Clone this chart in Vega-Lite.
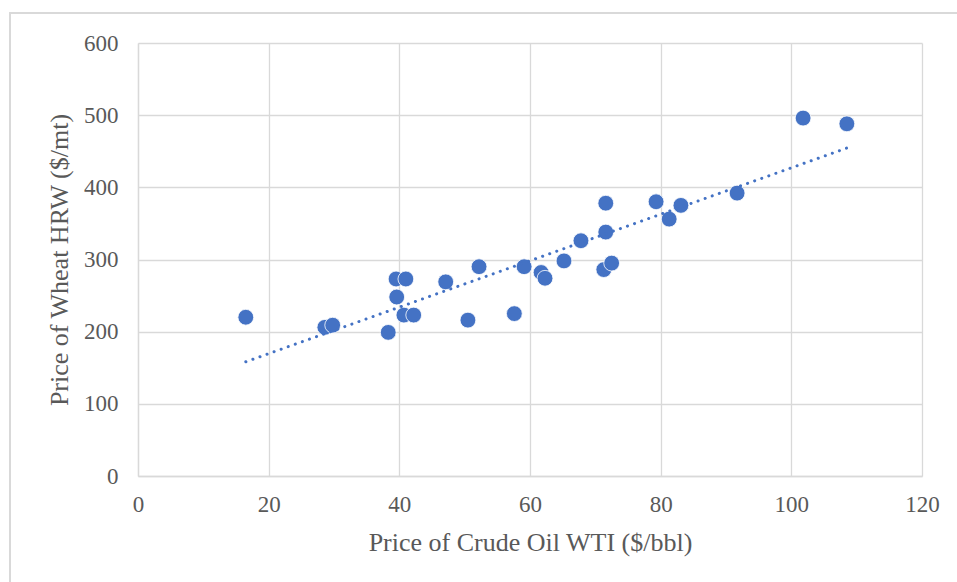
{
  "$schema": "https://vega.github.io/schema/vega-lite/v6.json",
  "width": 784,
  "height": 433,
  "autosize": "none",
  "padding": {"left": 138, "top": 43, "right": 35, "bottom": 106},
  "background": "white",
  "config": {
    "view": {"stroke": null},
    "font": "Liberation Serif",
    "axis": {
      "labelFont": "Liberation Serif",
      "titleFont": "Liberation Serif",
      "labelColor": "#595959",
      "titleColor": "#595959",
      "labelFontSize": 23,
      "titleFontSize": 26,
      "titleFontWeight": "normal",
      "grid": true,
      "gridColor": "#d9d9d9",
      "gridWidth": 1.3,
      "domainColor": "#d9d9d9",
      "domainWidth": 1.3,
      "ticks": false,
      "tickSize": 0
    }
  },
  "data": {
    "values": [
      {"oil": 16.5, "wheat": 220},
      {"oil": 28.6, "wheat": 206},
      {"oil": 29.8, "wheat": 209},
      {"oil": 38.3, "wheat": 199},
      {"oil": 39.5, "wheat": 273},
      {"oil": 39.6, "wheat": 248},
      {"oil": 41.0, "wheat": 273},
      {"oil": 40.7, "wheat": 223},
      {"oil": 42.2, "wheat": 223},
      {"oil": 47.1, "wheat": 269},
      {"oil": 50.5, "wheat": 216},
      {"oil": 52.2, "wheat": 290},
      {"oil": 57.6, "wheat": 225},
      {"oil": 59.1, "wheat": 290},
      {"oil": 61.7, "wheat": 282},
      {"oil": 62.3, "wheat": 274},
      {"oil": 65.2, "wheat": 298},
      {"oil": 67.8, "wheat": 326},
      {"oil": 71.6, "wheat": 378},
      {"oil": 71.6, "wheat": 338},
      {"oil": 71.3, "wheat": 286},
      {"oil": 72.5, "wheat": 295},
      {"oil": 79.3, "wheat": 380},
      {"oil": 81.3, "wheat": 356},
      {"oil": 83.1, "wheat": 375},
      {"oil": 91.7, "wheat": 392},
      {"oil": 101.8, "wheat": 496},
      {"oil": 108.5, "wheat": 488}
    ]
  },
  "layer": [
    {
      "mark": {"type": "rect", "fill": null, "stroke": "#d9d9d9", "strokeWidth": 1.3, "clip": false},
      "encoding": {
        "x": {"datum": -19.6, "type": "quantitative", "scale": {"domain": [0, 120], "nice": false}, "axis": {"grid": true}},
        "x2": {"datum": 140},
        "y": {"datum": 641.6, "type": "quantitative", "scale": {"domain": [0, 600], "nice": false}, "axis": {"grid": true}},
        "y2": {"datum": -300}
      }
    },
    {
      "mark": {"type": "circle", "size": 250, "color": "#4472C4", "opacity": 1, "stroke": "white", "strokeWidth": 0.8},
      "encoding": {
        "x": {
          "field": "oil",
          "type": "quantitative",
          "scale": {"domain": [0, 120], "nice": false},
          "axis": {"grid": true, "values": [0, 20, 40, 60, 80, 100, 120], "title": "Price of Crude Oil WTI ($/bbl)", "labelPadding": 17, "titlePadding": 13, "labelFlush": false}
        },
        "y": {
          "field": "wheat",
          "type": "quantitative",
          "scale": {"domain": [0, 600], "nice": false},
          "axis": {"grid": true, "values": [0, 100, 200, 300, 400, 500, 600], "title": "Price of Wheat HRW ($/mt)", "labelPadding": 20, "titlePadding": 11, "labelFlush": false}
        }
      }
    },
    {
      "transform": [{"regression": "wheat", "on": "oil", "extent": [16.5, 108.5]}],
      "mark": {"type": "line", "color": "#4472C4", "strokeWidth": 3, "strokeDash": [0.1, 7.4], "strokeCap": "round"},
      "encoding": {
        "x": {"field": "oil", "type": "quantitative"},
        "y": {"field": "wheat", "type": "quantitative"}
      }
    }
  ]
}
